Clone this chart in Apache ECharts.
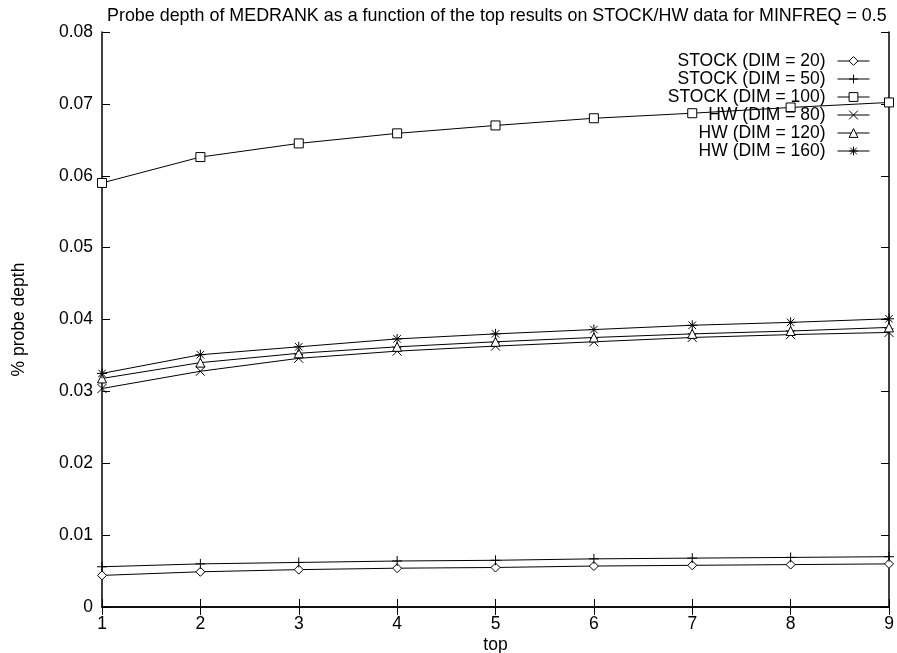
<!DOCTYPE html>
<html>
<head>
<meta charset="utf-8">
<script src="https://cdn.jsdelivr.net/npm/echarts@6/dist/echarts.min.js"></script>
<style>
  html, body { margin: 0; padding: 0; background: #fff; }
  #chart { width: 897px; height: 653px; }
</style>
</head>
<body>
<div id="chart"></div>
<script>
// top-k values on the x axis
const topValues = [1, 2, 3, 4, 5, 6, 7, 8, 9];

// probe depth (fraction) per series
const stock20  = [0.0044, 0.0049, 0.0052, 0.0054, 0.0055, 0.0057, 0.0058, 0.0059, 0.0060];
const stock50  = [0.0056, 0.0060, 0.0062, 0.0064, 0.0065, 0.0067, 0.0068, 0.0069, 0.0070];
const stock100 = [0.0590, 0.0626, 0.0645, 0.0659, 0.0670, 0.0680, 0.0687, 0.0695, 0.0702];
const hw80     = [0.0304, 0.0328, 0.0346, 0.0356, 0.0363, 0.0369, 0.0375, 0.0379, 0.0382];
const hw120    = [0.0318, 0.0340, 0.0353, 0.0362, 0.0369, 0.0375, 0.0380, 0.0384, 0.0389];
const hw160    = [0.0325, 0.0351, 0.0362, 0.0373, 0.0380, 0.0386, 0.0392, 0.0396, 0.0401];

const seriesNames = [
  'STOCK (DIM = 20)', 'STOCK (DIM = 50)', 'STOCK (DIM = 100)',
  'HW (DIM = 80)', 'HW (DIM = 120)', 'HW (DIM = 160)'
];
const seriesValues = [stock20, stock50, stock100, hw80, hw120, hw160];

const yTicks = [0, 0.01, 0.02, 0.03, 0.04, 0.05, 0.06, 0.07, 0.08];

// point symbols, drawn as outlines
const symbols = [
  { path: 'path://M0,-1L1,0L0,1L-1,0Z', size: 9 },                       // diamond
  { path: 'path://M0,-1L0,1M-1,0L1,0', size: 10 },                       // plus
  { path: 'path://M-1,-1L1,-1L1,1L-1,1Z', size: 9 },                     // square
  { path: 'path://M-1,-1L1,1M-1,1L1,-1', size: 9 },                      // cross
  { path: 'path://M0,-1L1,0.8L-1,0.8Z', size: 9 },                       // triangle
  { path: 'path://M0,-1L0,1M-1,0L1,0M-0.75,-0.75L0.75,0.75M-0.75,0.75L0.75,-0.75', size: 10 } // star
];

const FONT = 'Liberation Sans, Arial, Helvetica, sans-serif';
const FS = 17.5;

const chart = echarts.init(document.getElementById('chart'), null, { renderer: 'canvas' });

const series = seriesNames.map((name, i) => ({
  name: name,
  type: 'line',
  data: topValues.map((x, j) => [x, seriesValues[i][j]]),
  symbol: symbols[i].path,
  symbolSize: symbols[i].size,
  showAllSymbol: true,
  lineStyle: { color: '#000', width: 1 },
  itemStyle: { color: '#fff', borderColor: '#000', borderWidth: 1 },
  emphasis: { disabled: true },
  animation: false
}));

const tickCommon = { show: true, inside: true, length: 8, lineStyle: { color: '#000', width: 1 } };
const lineCommon = { show: true, lineStyle: { color: '#000', width: 1.5 } };

chart.setOption({
  backgroundColor: '#fff',
  animation: false,
  title: {
    text: 'Probe depth of MEDRANK as a function of the top results on STOCK/HW data for MINFREQ = 0.5',
    left: 102,
    top: 2,
    textStyle: { fontFamily: FONT, fontSize: 17.9, fontWeight: 'normal', color: '#000' }
  },
  legend: {
    orient: 'vertical',
    right: 22,
    top: 47,
    align: 'right',
    itemWidth: 32,
    itemHeight: 11,
    itemGap: 0,
    lineStyle: { width: 1 },
    itemStyle: { borderWidth: 1 },
    textStyle: { fontFamily: FONT, fontSize: FS, lineHeight: 18, color: '#000', padding: [0, 7, 0, 0] },
    data: seriesNames
  },
  grid: { left: 102, right: 8, top: 32, bottom: 46, outerBoundsMode: 'none', containLabel: false },
  xAxis: [
    {
      type: 'value', min: 1, max: 9, interval: 1,
      name: 'top', nameLocation: 'middle', nameGap: 29, nameMoveOverlap: false,
      nameTextStyle: { fontFamily: FONT, fontSize: FS, color: '#000' },
      axisLine: lineCommon, axisTick: tickCommon,
      axisLabel: { color: '#000', fontFamily: FONT, fontSize: FS, margin: 8 },
      splitLine: { show: false }
    },
    {
      type: 'value', min: 1, max: 9, interval: 1, position: 'top',
      axisLine: lineCommon, axisTick: tickCommon,
      axisLabel: { show: false }, splitLine: { show: false }
    }
  ],
  yAxis: [
    {
      type: 'value', min: yTicks[0], max: yTicks[yTicks.length - 1], interval: 0.01,
      name: '% probe depth', nameLocation: 'middle', nameGap: 74, nameRotate: 90, nameMoveOverlap: false,
      nameTextStyle: { fontFamily: FONT, fontSize: FS, color: '#000' },
      axisLine: lineCommon, axisTick: tickCommon,
      axisLabel: { color: '#000', fontFamily: FONT, fontSize: FS, margin: 9,
                   formatter: v => String(Math.round(v * 100) / 100) },
      splitLine: { show: false }
    },
    {
      type: 'value', min: yTicks[0], max: yTicks[yTicks.length - 1], interval: 0.01, position: 'right',
      axisLine: lineCommon, axisTick: tickCommon,
      axisLabel: { show: false }, splitLine: { show: false }
    }
  ],
  series: series
});
</script>
</body>
</html>
